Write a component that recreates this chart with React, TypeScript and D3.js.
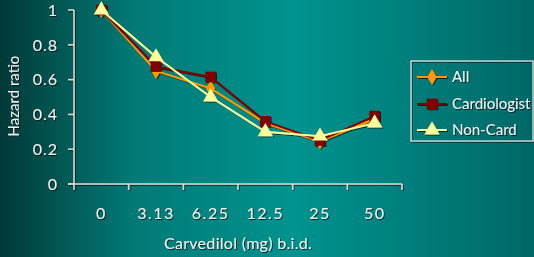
import * as d3 from "d3";
import React, { useEffect, useRef } from "react";

const categories = ["0", "3.13", "6.25", "12.5", "25", "50"];
const allValues = [1.0, 0.65, 0.55, 0.35, 0.245, 0.375];
const cardioValues = [1.0, 0.675, 0.615, 0.36, 0.25, 0.39];
const nonCardValues = [1.0, 0.73, 0.5, 0.3, 0.275, 0.35];
const yTicks = [0, 0.2, 0.4, 0.6, 0.8, 1];

const W = 534;
const H = 257;
const FONT = "Lato, 'DejaVu Sans', sans-serif";

function App() {
  const svgRef = useRef<SVGSVGElement>(null);

  useEffect(() => {
    const svg = d3.select(svgRef.current);
    svg.selectAll("*").remove();

    const defs = svg.append("defs");
    const grad = defs.append("linearGradient").attr("id", "bg").attr("x1", 0).attr("x2", 1).attr("y1", 0).attr("y2", 0);
    grad.append("stop").attr("offset", "0%").attr("stop-color", "#023a38");
    grad.append("stop").attr("offset", "25%").attr("stop-color", "#027a76");
    grad.append("stop").attr("offset", "55%").attr("stop-color", "#00938f");
    grad.append("stop").attr("offset", "100%").attr("stop-color", "#006866");
    const sh = defs.append("filter").attr("id", "sh").attr("x", "-20%").attr("y", "-20%").attr("width", "140%").attr("height", "140%");
    sh.append("feDropShadow").attr("dx", 1).attr("dy", 1).attr("stdDeviation", 0.3).attr("flood-color", "#000").attr("flood-opacity", 0.7);

    svg.append("rect").attr("width", W).attr("height", H).attr("fill", "url(#bg)");

    // band scale: ticks on band edges, points at centers
    const x = d3.scaleBand().domain(categories).range([74, 402]);
    const y = d3.scaleLinear().domain([0, 1]).range([184, 10]);
    const cx = (c: string) => (x(c) as number) + x.bandwidth() / 2;

    const axes = svg.append("g").attr("filter", "url(#sh)");
    axes.append("line").attr("x1", 74).attr("x2", 74).attr("y1", y(1)).attr("y2", y(0))
      .attr("stroke", "#d8d8d8").attr("stroke-width", 1.5);
    axes.append("line").attr("x1", 68).attr("x2", 402).attr("y1", y(0)).attr("y2", y(0))
      .attr("stroke", "#d8d8d8").attr("stroke-width", 1.5);
    axes.selectAll(".yt").data(yTicks).join("line")
      .attr("x1", 68).attr("x2", 74).attr("y1", d => y(d)).attr("y2", d => y(d))
      .attr("stroke", "#d8d8d8").attr("stroke-width", 1.5);
    const xEdges = categories.map(c => x(c) as number).concat([402]);
    axes.selectAll(".xt").data(xEdges).join("line")
      .attr("x1", d => d).attr("x2", d => d).attr("y1", y(0)).attr("y2", y(0) + 6)
      .attr("stroke", "#d8d8d8").attr("stroke-width", 1.5);

    const txt = svg.append("g").attr("filter", "url(#sh)").attr("fill", "#f2f2f2").style("font-family", FONT);
    txt.selectAll(".yl").data(yTicks).join("text")
      .attr("x", 58).attr("y", d => y(d)).attr("dy", "0.36em").attr("text-anchor", "end")
      .attr("font-size", 16).attr("letter-spacing", 1).text(d => String(d));
    txt.selectAll(".xl").data(categories).join("text")
      .attr("x", d => cx(d)).attr("y", 213).attr("dy", "0.36em").attr("text-anchor", "middle")
      .attr("font-size", 16).attr("letter-spacing", 1.5).text(d => d);
    txt.append("text").attr("x", 238).attr("y", 243).attr("dy", "0.36em").attr("text-anchor", "middle")
      .attr("font-size", 16).attr("letter-spacing", 0.3).text("Carvedilol (mg) b.i.d.");
    txt.append("text").attr("transform", "translate(14,96) rotate(-90)").attr("dy", "0.36em")
      .attr("text-anchor", "middle").attr("font-size", 15).text("Hazard ratio");

    const series = [
      { name: "All", values: allValues, color: "#ff9a00", marker: d3.symbolDiamond, size: 75 },
      { name: "Cardiologist", values: cardioValues, color: "#800000", marker: d3.symbolSquare, size: 115 },
      { name: "Non-Card", values: nonCardValues, color: "#ffff99", marker: d3.symbolTriangle, size: 100 },
    ];

    const line = d3.line<number>().x((_, i) => cx(categories[i])).y(d => y(d));
    const plot = svg.append("g").attr("filter", "url(#sh)");
    series.forEach(s => {
      plot.append("path").attr("d", line(s.values)).attr("fill", "none")
        .attr("stroke", s.color).attr("stroke-width", 2);
      plot.selectAll(null).data(s.values).join("path")
        .attr("d", d3.symbol().type(s.marker).size(s.size)())
        .attr("transform", (d, i) => `translate(${cx(categories[i])},${y(d)})`)
        .attr("fill", s.color);
    });

    // legend
    const lg = svg.append("g");
    lg.append("rect").attr("x", 411).attr("y", 61).attr("width", 122).attr("height", 80)
      .attr("fill", "none").attr("stroke", "#e8e8e8").attr("stroke-width", 1.2).attr("filter", "url(#sh)");
    const rows = [77, 104, 130];
    series.forEach((s, i) => {
      const g = lg.append("g").attr("filter", "url(#sh)");
      g.append("line").attr("x1", 417).attr("x2", 447).attr("y1", rows[i]).attr("y2", rows[i])
        .attr("stroke", s.color).attr("stroke-width", 2);
      g.append("path").attr("d", d3.symbol().type(s.marker).size(s.size)())
        .attr("transform", `translate(432,${rows[i]})`).attr("fill", s.color);
      g.append("text").attr("x", 452).attr("y", rows[i]).attr("dy", "0.36em")
        .attr("font-size", 15).attr("fill", "#f2f2f2").style("font-family", FONT).text(s.name);
    });
  }, []);

  return (
    <svg ref={svgRef} width={W} height={H}
      style={{ position: "absolute", left: 0, top: 0, display: "block" }} />
  );
}

export default App;
